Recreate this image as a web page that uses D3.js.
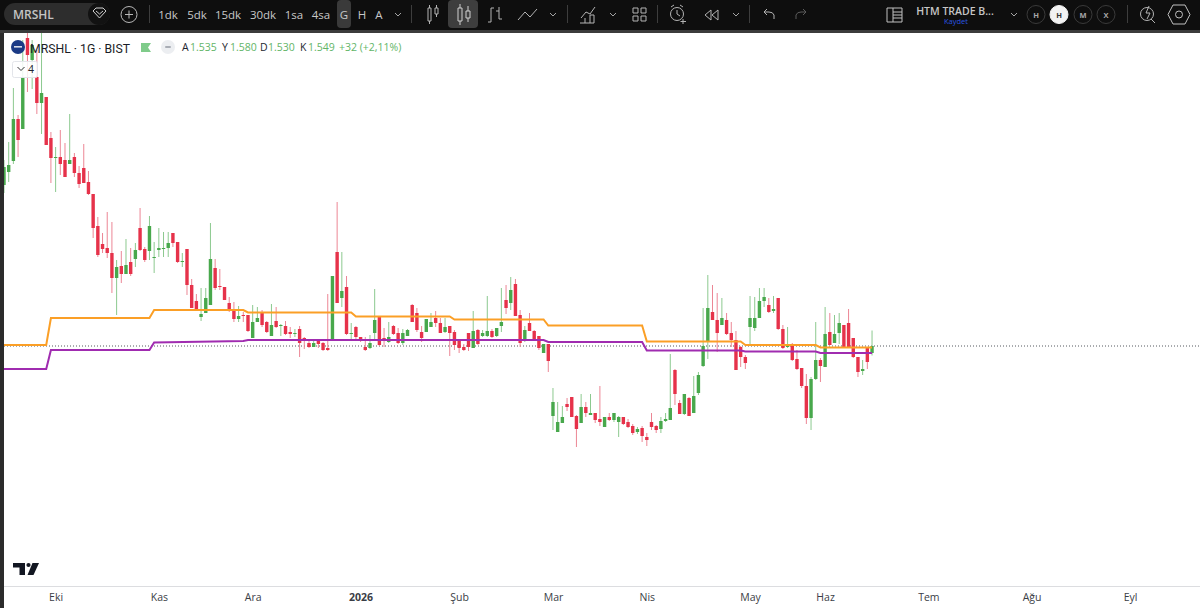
<!DOCTYPE html>
<html>
<head>
<meta charset="utf-8">
<script src="https://cdn.jsdelivr.net/npm/d3@7"></script>
<style>
html,body{margin:0;padding:0;background:#fff;overflow:hidden}
svg{display:block}
text{font-family:"Open Sans","Noto Sans",sans-serif}
</style>
</head>
<body>
<div id="chart"></div>
<script>
// daily bars, one entry per session (TL)
const opens = [1.871,1.897,1.919,2.003,1.983,2.165,2.121,2.087,2.035,2.047,1.965,1.925,1.927,1.921,1.913,1.927,1.895,1.905,1.877,1.853,1.789,1.753,1.745,1.735,1.685,1.709,1.693,1.717,1.723,1.785,1.743,1.739,1.725,1.741,1.743,1.745,1.775,1.757,1.717,1.743,1.671,1.639,1.607,1.615,1.631,1.705,1.669,1.667,1.635,1.619,1.603,1.611,1.611,1.565,1.597,1.615,1.597,1.569,1.599,1.589,1.589,1.577,1.573,1.583,1.565,1.555,1.547,1.561,1.555,1.545,1.563,1.737,1.645,1.667,1.573,1.587,1.567,1.547,1.545,1.575,1.607,1.565,1.557,1.589,1.575,1.555,1.569,1.631,1.615,1.577,1.577,1.587,1.605,1.595,1.577,1.589,1.577,1.559,1.547,1.575,1.545,1.581,1.569,1.569,1.579,1.569,1.589,1.641,1.635,1.673,1.611,1.561,1.595,1.579,1.569,1.535,1.553,1.409,1.377,1.395,1.433,1.447,1.409,1.395,1.427,1.411,1.415,1.403,1.387,1.407,1.401,1.397,1.407,1.397,1.389,1.377,1.385,1.367,1.397,1.389,1.383,1.399,1.401,1.501,1.435,1.413,1.445,1.415,1.455,1.509,1.557,1.617,1.601,1.591,1.601,1.575,1.561,1.547,1.527,1.587,1.585,1.605,1.639,1.631,1.619,1.645,1.583,1.547,1.549,1.523,1.505,1.469,1.405,1.483,1.521,1.507,1.577,1.555,1.575,1.591,1.595,1.565,1.527,1.499,1.547,1.535];
const highs = [1.921,1.957,2.065,2.011,2.161,2.185,2.161,2.141,2.175,2.047,1.977,1.947,1.981,1.955,2.013,1.935,1.909,1.953,1.899,1.853,1.807,1.775,1.817,1.797,1.721,1.739,1.763,1.745,1.755,1.825,1.747,1.809,1.757,1.785,1.777,1.777,1.775,1.757,1.735,1.743,1.683,1.653,1.665,1.665,1.795,1.723,1.703,1.667,1.647,1.637,1.629,1.617,1.611,1.631,1.627,1.621,1.599,1.633,1.627,1.593,1.599,1.587,1.583,1.589,1.567,1.563,1.561,1.563,1.557,1.653,1.689,1.837,1.737,1.689,1.595,1.589,1.567,1.567,1.571,1.663,1.607,1.585,1.597,1.591,1.585,1.583,1.583,1.633,1.625,1.589,1.603,1.615,1.619,1.605,1.605,1.589,1.581,1.561,1.553,1.575,1.619,1.583,1.581,1.649,1.583,1.585,1.665,1.671,1.687,1.683,1.621,1.589,1.615,1.581,1.569,1.553,1.553,1.465,1.437,1.429,1.445,1.447,1.411,1.453,1.437,1.453,1.415,1.469,1.407,1.415,1.415,1.409,1.407,1.403,1.393,1.387,1.389,1.375,1.415,1.391,1.407,1.415,1.533,1.503,1.441,1.453,1.447,1.489,1.497,1.625,1.691,1.671,1.655,1.645,1.615,1.597,1.579,1.549,1.531,1.649,1.647,1.665,1.665,1.645,1.649,1.645,1.591,1.587,1.555,1.541,1.505,1.493,1.487,1.597,1.525,1.627,1.615,1.611,1.615,1.591,1.623,1.565,1.527,1.521,1.547,1.580];
const lows = [1.855,1.877,1.913,1.927,1.983,2.057,2.063,2.013,1.973,1.951,1.875,1.857,1.891,1.887,1.913,1.887,1.865,1.875,1.851,1.765,1.727,1.735,1.725,1.655,1.611,1.675,1.695,1.689,1.707,1.739,1.717,1.721,1.695,1.727,1.727,1.727,1.747,1.715,1.707,1.651,1.625,1.621,1.599,1.615,1.631,1.661,1.661,1.641,1.617,1.597,1.597,1.597,1.577,1.565,1.597,1.587,1.575,1.569,1.585,1.569,1.571,1.565,1.567,1.527,1.543,1.545,1.547,1.545,1.539,1.539,1.563,1.635,1.627,1.571,1.563,1.561,1.557,1.539,1.543,1.561,1.549,1.547,1.555,1.571,1.553,1.551,1.569,1.597,1.577,1.557,1.577,1.587,1.587,1.575,1.575,1.529,1.541,1.535,1.539,1.539,1.545,1.551,1.567,1.567,1.565,1.567,1.577,1.613,1.621,1.609,1.547,1.557,1.579,1.561,1.541,1.535,1.497,1.381,1.377,1.395,1.419,1.407,1.347,1.395,1.407,1.411,1.395,1.389,1.387,1.399,1.397,1.367,1.391,1.385,1.371,1.373,1.357,1.349,1.381,1.375,1.375,1.397,1.401,1.431,1.413,1.411,1.409,1.415,1.451,1.507,1.523,1.601,1.537,1.591,1.571,1.547,1.501,1.507,1.503,1.553,1.579,1.605,1.627,1.615,1.615,1.581,1.543,1.545,1.519,1.501,1.465,1.393,1.381,1.481,1.477,1.507,1.551,1.555,1.553,1.547,1.545,1.525,1.487,1.491,1.503,1.530];
const closes = [1.907,1.911,2.003,1.961,2.087,2.131,2.151,2.035,2.055,1.951,1.925,1.927,1.913,1.887,1.921,1.895,1.873,1.875,1.853,1.785,1.731,1.743,1.735,1.685,1.707,1.693,1.711,1.693,1.741,1.741,1.721,1.789,1.727,1.745,1.745,1.755,1.755,1.717,1.719,1.671,1.625,1.623,1.613,1.645,1.723,1.665,1.667,1.641,1.621,1.603,1.609,1.609,1.579,1.597,1.605,1.591,1.577,1.591,1.587,1.591,1.573,1.573,1.575,1.555,1.559,1.547,1.555,1.553,1.541,1.541,1.689,1.635,1.659,1.573,1.575,1.567,1.559,1.541,1.555,1.601,1.551,1.559,1.567,1.573,1.555,1.575,1.581,1.597,1.581,1.565,1.603,1.597,1.595,1.575,1.587,1.575,1.551,1.545,1.541,1.547,1.579,1.553,1.575,1.579,1.567,1.585,1.597,1.625,1.661,1.609,1.555,1.581,1.579,1.563,1.545,1.553,1.519,1.437,1.397,1.407,1.427,1.407,1.383,1.427,1.415,1.415,1.401,1.397,1.407,1.401,1.415,1.407,1.393,1.387,1.375,1.383,1.369,1.361,1.387,1.381,1.399,1.403,1.425,1.453,1.413,1.453,1.409,1.449,1.491,1.549,1.625,1.601,1.575,1.605,1.573,1.561,1.501,1.527,1.515,1.605,1.605,1.639,1.647,1.617,1.623,1.583,1.545,1.553,1.521,1.503,1.469,1.405,1.483,1.521,1.509,1.573,1.551,1.573,1.595,1.547,1.547,1.527,1.497,1.503,1.517,1.549];

// stepped overlay lines, bar index -> level
const orangeBars = [0,9,10,31,32,51,52,74,75,95,96,115,116,136,137,157,158,173,174,185];
const orangeVals = [1.551,1.551,1.605,1.605,1.621,1.621,1.616,1.616,1.608,1.608,1.602,1.602,1.590,1.590,1.558,1.558,1.551,1.551,1.546,1.546];
const purpleBars = [0,9,10,31,32,51,52,115,116,136,137,157,158,173,174,185];
const purpleVals = [1.503,1.503,1.541,1.541,1.556,1.559,1.561,1.561,1.557,1.557,1.540,1.540,1.538,1.538,1.535,1.535];

const lastPrice = 1.549;
const monthBars = [11,33,53,76,97,117,137,159,175,197,219,240];
const monthLabels = ["Eki","Kas","Ara","2026","Şub","Mar","Nis","May","Haz","Tem","Ağu","Eyl"];
const intervals = ["1dk","5dk","15dk","30dk","1sa","4sa","G","H","A"];
const intervalX = [168,197,228,263,294,321,344,362,379];
const ohlcNames = ["A","Y","D","K"];
const ohlcTexts = ["1.535","1.580","1.530","1.549"];
const ohlcX = [182,222,260,300];
const layoutBadges = ["H","H","M","X"];
const badgeX = [1036,1059,1083,1106];

const W = 1200, H = 608;
const paneTop = 33, paneBottom = 586, paneLeft = 4;

const svg = d3.select("#chart").append("svg").attr("width", W).attr("height", H);

const x = d3.scaleLinear().domain([0, 240]).range([4, 1130.1]);
const y = d3.scaleLinear().domain([1.069, 2.175]).range([paneBottom, paneTop]);

svg.append("clipPath").attr("id", "pane").append("rect")
  .attr("x", paneLeft).attr("y", paneTop).attr("width", W - paneLeft).attr("height", paneBottom - paneTop);

const pane = svg.append("g").attr("clip-path", "url(#pane)");

// last price dotted line
pane.append("line")
  .attr("x1", paneLeft).attr("x2", W).attr("y1", y(lastPrice)).attr("y2", y(lastPrice))
  .attr("stroke", "#55585f").attr("stroke-width", 1).attr("stroke-dasharray", "1 2");

const UP = "#48a84c", DOWN = "#e6324a", UPW = "#8cc98f", DOWNW = "#ec8695";
const bars = d3.range(opens.length);
const isUp = i => closes[i] >= opens[i];

pane.selectAll("line.wick").data(bars).enter().append("line")
  .attr("class", "wick")
  .attr("x1", i => x(i)).attr("x2", i => x(i))
  .attr("y1", i => y(highs[i])).attr("y2", i => y(lows[i]))
  .attr("stroke", i => isUp(i) ? UPW : DOWNW).attr("stroke-width", 1);

pane.selectAll("rect.body").data(bars).enter().append("rect")
  .attr("class", "body")
  .attr("x", i => x(i) - 1.7).attr("width", 3.4)
  .attr("y", i => y(Math.max(opens[i], closes[i])))
  .attr("height", i => Math.max(1, Math.abs(y(opens[i]) - y(closes[i]))))
  .attr("fill", i => isUp(i) ? UP : DOWN);

function stepLine(barsX, vals, color) {
  const gen = d3.line().x(d => x(d[0])).y(d => y(d[1]));
  pane.append("path").datum(d3.zip(barsX, vals))
    .attr("d", gen).attr("fill", "none").attr("stroke", color).attr("stroke-width", 2);
}
stepLine(orangeBars, orangeVals, "#fb9f26");
stepLine(purpleBars, purpleVals, "#a02cb0");

// time axis
svg.append("line").attr("x1", paneLeft).attr("x2", W).attr("y1", paneBottom + .5).attr("y2", paneBottom + .5)
  .attr("stroke", "#dcdde0");
const axis = d3.axisBottom(x).tickValues(monthBars).tickSize(0).tickPadding(8)
  .tickFormat((d, i) => monthLabels[i]);
const axisG = svg.append("g").attr("transform", "translate(0," + paneBottom + ")").call(axis);
axisG.select(".domain").remove();
axisG.selectAll("text").attr("font-size", 10.5).attr("fill", "#3a3d46")
  .attr("font-weight", (d, i) => monthLabels[i] == "2026" ? 700 : 400)
  .style("font-family", '"Open Sans",sans-serif');

// tv logo
const logo = svg.append("g").attr("fill", "#131722");
logo.append("path").attr("d", "M13 563H25V575H19.5V567.5H13Z");
logo.append("circle").attr("cx", 28.5).attr("cy", 565).attr("r", 2.1);
logo.append("path").attr("d", "M32.5 563H39L33.5 575H27.5Z");

// legend
const lg = svg.append("g");
lg.append("circle").attr("cx", 18).attr("cy", 47).attr("r", 7).attr("fill", "#1b3a85");
lg.append("rect").attr("x", 14).attr("y", 46).attr("width", 8).attr("height", 1.6).attr("fill", "#d8dce8");
lg.append("text").attr("x", 30).attr("y", 52.5).attr("font-size", 13.5).attr("fill", "#1a1d26")
  .style("font-family", "Roboto,sans-serif").attr("textLength", 100).attr("lengthAdjust", "spacingAndGlyphs")
  .text("MRSHL · 1G · BIST");
lg.append("path").attr("d", "M141 43H151L148 47.5L151 52H141Z").attr("fill", "#7fcb8a");
lg.append("circle").attr("cx", 168).attr("cy", 47).attr("r", 7).attr("fill", "#eceef1");
lg.append("rect").attr("x", 165).attr("y", 46).attr("width", 6).attr("height", 2).attr("rx", 1).attr("fill", "#a9adb5");
lg.selectAll("text.n").data(ohlcNames).enter().append("text").attr("class", "n")
  .attr("x", (d, i) => ohlcX[i]).attr("y", 51).attr("font-size", 10.5).attr("fill", "#22252e").text(d => d);
lg.selectAll("text.v").data(ohlcTexts).enter().append("text").attr("class", "v")
  .attr("x", (d, i) => ohlcX[i] + 8).attr("y", 51).attr("font-size", 10.5).attr("fill", "#62b567").text(d => d);
lg.append("text").attr("x", 339).attr("y", 51).attr("font-size", 10.5).attr("fill", "#62b567").text("+32 (+2,11%)");
lg.append("rect").attr("x", 12.5).attr("y", 61.5).attr("width", 25).attr("height", 16).attr("rx", 2)
  .attr("fill", "#fff").attr("fill-opacity", .85).attr("stroke", "#e3e5ea");
lg.append("path").attr("d", "M17.5 67L21 70.5L24.5 67").attr("fill", "none").attr("stroke", "#333").attr("stroke-width", 1);
lg.append("text").attr("x", 28).attr("y", 73).attr("font-size", 10.5).attr("fill", "#22252e").text("4");

// top toolbar
const tb = svg.append("g");
tb.append("rect").attr("x", 0).attr("y", 0).attr("width", W).attr("height", 30).attr("fill", "#0e0e0e");
tb.append("rect").attr("x", 0).attr("y", 30).attr("width", W).attr("height", 3).attr("fill", "#3c3c3c");
svg.append("rect").attr("x", 0).attr("y", 33).attr("width", paneLeft).attr("height", H - 33).attr("fill", "#2b2b2b");

tb.append("rect").attr("x", 4).attr("y", 3).attr("width", 106).attr("height", 22).attr("rx", 11).attr("fill", "#2d2d2d");
tb.append("circle").attr("cx", 99).attr("cy", 14).attr("r", 11).attr("fill", "#121212");
tb.append("text").attr("x", 13).attr("y", 18.5).attr("font-size", 12).attr("font-weight", 600).attr("fill", "#c4c4c4").text("MRSHL");
tb.append("rect").attr("x", 337).attr("y", 0).attr("width", 14).attr("height", 28).attr("rx", 4).attr("fill", "#3a3a3a");
tb.append("rect").attr("x", 448).attr("y", 0).attr("width", 30).attr("height", 28).attr("rx", 4).attr("fill", "#3e3e3e");

tb.selectAll("text.iv").data(intervals).enter().append("text").attr("class", "iv")
  .attr("x", (d, i) => intervalX[i]).attr("y", 18.5).attr("text-anchor", "middle")
  .attr("font-size", 11.5).attr("fill", "#c8c8c8").text(d => d);

[149, 411, 567, 657, 749, 1127].forEach(sx => {
  tb.append("line").attr("x1", sx + .5).attr("x2", sx + .5).attr("y1", 5).attr("y2", 23).attr("stroke", "#3d3d3d");
});

function ico(d, col) {
  tb.append("path").attr("d", d).attr("fill", "none").attr("stroke", col || "#b4b4b4").attr("stroke-width", 1);
}
// chevrons
[398, 553, 613, 736, 1014].forEach(c => ico("M" + (c - 3) + " 13L" + c + " 16L" + (c + 3) + " 13", "#a5a5a5"));
// diamond, plus
ico("M93 11L96 8H103L106 11L99.5 18Z M96 11L99.5 14L103 11", "#d0d0d0");
tb.append("circle").attr("cx", 129).attr("cy", 14.5).attr("r", 8).attr("fill", "none").attr("stroke", "#b8b8b8");
ico("M125 14.5H133M129 10.5V18.5", "#b8b8b8");
// candle icons
ico("M428 8H431V21H428ZM429.5 5V8M429.5 21V24M435 8H438V14H435ZM436.5 5V8M436.5 14V17");
ico("M458 8H462V21H458ZM460 4V8M460 21V25M466 11H470V18H466ZM468 6V11M468 18V22", "#d0d0d0");
// bars
ico("M491 22V8H494M491 22H488M499 7V19H502M499 11H496");
// line
ico("M518 20L525 12L530 17L537 9");
// indicators
ico("M581 18L586 12L590 14L595 7M580 23H594V15H590V23M585 23V18", "#b4b4b4");
// grid
ico("M633 8H638V13H633ZM641 8H646V13H641ZM633 16H638V21H633ZM641 16H646V21H641Z");
// alarm
tb.append("circle").attr("cx", 677).attr("cy", 14).attr("r", 6.5).attr("fill", "none").attr("stroke", "#b4b4b4");
ico("M677 10V14L680 16M671 7L674 5M680 5L683 7M683 19V24M680.5 21.5H686");
// rewind
ico("M711 10L705 15L711 20ZM718 10L712 15L718 20Z");
// undo, redo
ico("M774 19V15Q773 12 769 12H764M767 9L764 12L767 15");
ico("M796 19V15Q797 12 801 12H806M803 9L806 12L803 15", "#5b5b5b");
// layout
ico("M887 8H902V22H887ZM893 8V22M893 12H902M893 15H902M893 18H902", "#c0c0c0");
tb.append("text").attr("x", 955).attr("y", 14.5).attr("text-anchor", "middle").attr("font-size", 10.5).attr("font-weight", 600).attr("fill", "#c6c6c6").text("HTM TRADE B...");
tb.append("text").attr("x", 956).attr("y", 24).attr("text-anchor", "middle").attr("font-size", 7.5).attr("fill", "#2a55e0").text("Kaydet");
// layout badges
tb.selectAll("circle.b").data(layoutBadges).enter().append("circle").attr("class", "b")
  .attr("cx", (d, i) => badgeX[i]).attr("cy", 14.5).attr("r", 9)
  .attr("fill", (d, i) => i == 1 ? "#f2f2f2" : "none").attr("stroke", (d, i) => i == 1 ? "#f2f2f2" : "#3a3a3a");
tb.selectAll("text.b").data(layoutBadges).enter().append("text").attr("class", "b")
  .attr("x", (d, i) => badgeX[i]).attr("y", 17.5).attr("text-anchor", "middle").attr("font-size", 7.5).attr("font-weight", 700)
  .attr("fill", (d, i) => i == 1 ? "#333" : "#a8a8a8").text(d => d);
// search + hexagon
tb.append("circle").attr("cx", 1147).attr("cy", 14).attr("r", 6.5).attr("fill", "none").attr("stroke", "#b4b4b4");
ico("M1151 19L1155 23M1149 6L1146 13H1150L1147 19");
ico("M1173 5H1185L1190 14.5L1185 24H1173L1168 14.5Z", "#c0c0c0");
tb.append("circle").attr("cx", 1179).attr("cy", 14.5).attr("r", 3.5).attr("fill", "none").attr("stroke", "#c0c0c0");
</script>
</body>
</html>
